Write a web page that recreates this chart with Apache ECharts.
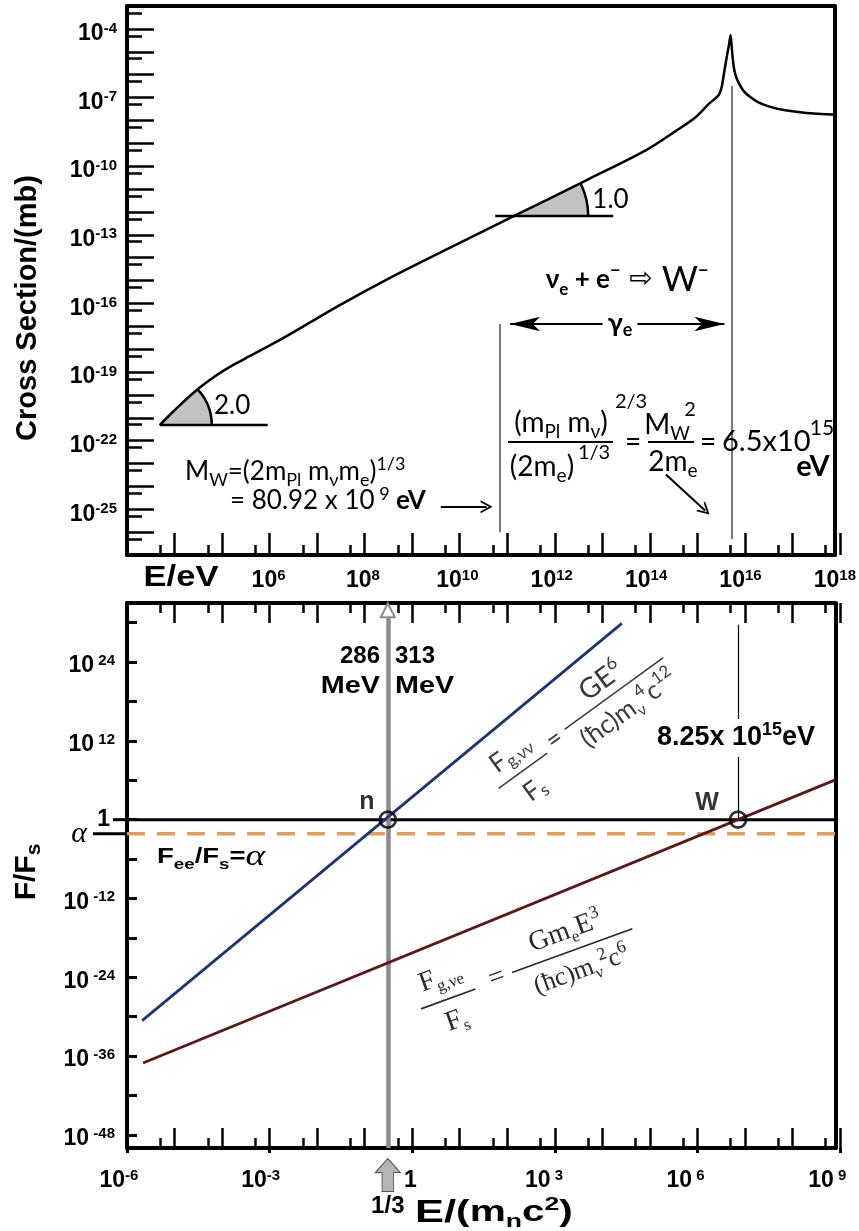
<!DOCTYPE html>
<html>
<head>
<meta charset="utf-8">
<script src="https://cdn.jsdelivr.net/npm/echarts@6.0.0/dist/echarts.min.js"></script>
<style>
html,body{margin:0;padding:0;background:#fff;}
#wrap{position:relative;width:859px;height:1231px;}
#chart,#ticks{position:absolute;left:0;top:0;width:859px;height:1231px;}
#ticks{pointer-events:none;}
</style>
</head>
<body>
<div id="wrap"><div id="chart"></div><div id="ticks"></div></div>
<script>
// ===================== DATA (log10 values) =====================
// Top panel: neutrino cross section vs E/eV
const sigmaLogE  = [3.694, 3.905, 4.115, 4.325, 4.536, 4.746, 4.957, 5.272, 5.588, 6.008, 6.429, 7.481, 8.533, 9.795, 11.205, 12.741, 14.003, 14.634, 15.055, 15.328, 15.539, 15.60, 15.65, 15.72, 15.76, 15.79, 15.82, 15.86, 15.90, 15.96, 16.06, 16.20, 16.38, 16.65, 16.95, 17.40, 17.94, 18.00];
const sigmaLogMb = [-21.32, -20.88, -20.46, -20.06, -19.69, -19.36, -19.06, -18.67, -18.32, -17.86, -17.38, -16.11, -14.93, -13.62, -12.18, -10.61, -9.30, -8.46, -7.85, -7.28, -6.89, -6.55, -5.95, -5.10, -4.65, -4.27, -4.95, -5.70, -6.05, -6.35, -6.70, -6.97, -7.21, -7.42, -7.56, -7.68, -7.74, -7.74];
// slope indicators on the curve
const slopeVertexLogE  = [3.694, 11.205];
const slopeVertexLogMb = [-21.32, -12.18];
const slopeValues      = [2.0, 1.0];
const slopeLabels      = ['2.0', '1.0'];
// marked energies (log10 eV)
const mwLogE        = 10.908;   // 80.92 x 10^9 eV
const resonanceLogE = 15.813;   // 6.5 x 10^15 eV

// Bottom panel: force ratios vs E/(m_n c^2)
const nuNuLogE = [-5.68, 4.48];
const nuNuLogF = [-30.6, 29.9];
const nuELogE  = [-5.66, 9.00];
const nuELogF  = [-37.06, 6.06];
const unityLogF = 0;
const alphaLogF = -2.137;      // alpha = 1/137
const crossingLogE  = [-0.477, 6.94];   // 1/3 and W point
const crossingLabels = ['n', 'W'];

// Tick label values (exponents)
const topXLabels = [6, 8, 10, 12, 14, 16, 18];
const topYLabels = [-4, -7, -10, -13, -16, -19, -22, -25];
const botXLabels = [-6, -3, 0, 3, 6, 9];
const botYLabels = [-48, -36, -24, -12, 12, 24];

// ===================== helpers =====================
const SANS = '"Liberation Sans", Arial, sans-serif';
const CAL  = 'Lato, "Open Sans", sans-serif';
const SERIF = '"Liberation Serif", "Times New Roman", serif';

const tickRich = {
  b: {fontSize: 23, fontWeight: 'bold', fontFamily: SANS, color: '#000', lineHeight: 26},
  s: {fontSize: 15, fontWeight: 'bold', fontFamily: SANS, color: '#000', lineHeight: 13, verticalAlign: 'top'},
  g: {width: 16}
};

function ax(o) {
  return {
    type: 'value', gridIndex: o.grid, position: o.pos, min: o.min, max: o.max,
    splitLine: {show: false},
    axisLine: {show: !!o.line, onZero: false, lineStyle: {color: '#000', width: 4}},
    axisTick: {show: false},
    axisLabel: o.labels ? Object.assign({show: true, customValues: o.labels, rich: tickRich}, o.label) : {show: false}
  };
}
function tax(o) {
  return {
    type: 'value', gridIndex: o.grid, position: o.pos, min: o.min, max: o.max, interval: o.interval,
    splitLine: {show: false},
    axisLine: {show: true, onZero: false, lineStyle: {color: o.frame ? '#000' : 'rgba(0,0,0,0)', width: o.frame ? 4 : 1}},
    axisTick: {show: true, inside: o.inside !== false, length: o.len, lineStyle: {color: '#000', width: o.tw || 2.5}},
    axisLabel: {show: true, formatter: () => ''}
  };
}
function dummy(grid) { return {type: 'value', gridIndex: grid, min: 0, max: 1, show: false}; }

function st(size, o) { return Object.assign({fontSize: size, fontFamily: CAL, fill: '#000', lineHeight: Math.round(size * 1.2)}, o || {}); }
function sup(size, o) { return st(size, Object.assign({verticalAlign: 'top', lineHeight: size}, o || {})); }
function sub(size, o) { return st(size, Object.assign({verticalAlign: 'bottom', lineHeight: size}, o || {})); }
function txt(x, y, text, rich, o) {
  o = o || {};
  const style = {text: text, rich: rich, align: o.align || 'center', verticalAlign: 'middle'};
  if (o.bg) { style.backgroundColor = o.bg; style.padding = o.pad || [0, 3]; }
  return {type: 'text', x: x, y: y, rotation: o.rot || 0, scaleX: o.sx || 1, scaleY: o.sy || 1, z: 100, silent: true, style: style};
}
function seg(x1, y1, x2, y2, w, c) {
  return {type: 'line', z: 100, silent: true, shape: {x1: x1, y1: y1, x2: x2, y2: y2}, style: {stroke: c || '#000', lineWidth: w || 2}};
}
const chevron = 'path://M0,12 L6,0 L12,12 L10.2,12 L6,3.6 L1.8,12 Z';
const blockArrow = 'path://M13,0 L26,14 L19,14 L19,33 L7,33 L7,14 L0,14 Z';
const WEDGE = [{r: 52, back: 0, len: 108}, {r: 74, back: 19, len: 99}];

// ===================== grids =====================
const TOP = {left: 127, top: 6, width: 713, height: 549, x: [3, 18], y: [-27, -3]};
const BOT = {left: 127, top: 603, width: 713, height: 545, x: [-6, 9], y: [-50, 33]};
const pxX = (g, v) => g.left + (v - g.x[0]) / (g.x[1] - g.x[0]) * g.width;
const pxY = (g, v) => g.top + (g.y[1] - v) / (g.y[1] - g.y[0]) * g.height;
const LOG5 = 0.699, LOG2 = 0.301;
function box(g, x0, x1, y0, y1) {
  return {left: pxX(g, x0), width: pxX(g, x1) - pxX(g, x0), top: pxY(g, y1), height: pxY(g, y0) - pxY(g, y1)};
}
const MAIN_GRIDS = [
  {left: TOP.left, top: TOP.top, width: TOP.width, height: TOP.height},
  {left: BOT.left, top: BOT.top, width: BOT.width, height: BOT.height}
];
const TICK_GRIDS = MAIN_GRIDS.concat([
  box(TOP, 3 + LOG5, 17 + LOG5, -27, -3),        // 2: top panel, 5x10^n ticks on x
  box(TOP, 3, 18, -26 - LOG2, -3 - LOG2),        // 3: top panel, 5x10^n ticks on y
  box(BOT, -6 + LOG5, 8 + LOG5, -50, 33),        // 4: bottom panel, 5x10^n ticks on x
  box(BOT, -6, 9, -48, 30)                       // 5: bottom panel, y ticks every 6 decades
]);

// ===================== graphic annotations =====================
const G1 = '#3a3a3a', G2 = '#2a2a2a';
const graphics = [
  // ---- top panel ----
  txt(28, 308, '{b|Cross Section/(mb)}', {b: st(29, {fontFamily: SANS, fontWeight: 'bold'})}, {rot: Math.PI / 2}),
  txt(181, 578, '{b|E/eV}', {b: st(30, {fontFamily: SANS, fontWeight: 'bold'})}, {sx: 1.15}),
  txt(627, 280, '{m|ν}{s|e}{m| + e}{p|−}{a| ⇨ }{w|W}{p|−}',
      {m: st(26, {fontWeight: 'bold', lineHeight: 36}), s: sub(17, {fontWeight: 'bold', lineHeight: 26}), p: sup(18, {fontWeight: 'bold'}),
       a: st(28, {fontFamily: '"DejaVu Sans"', lineHeight: 36}), w: st(35, {lineHeight: 36})}),
  txt(620, 323, '{m|γ}{s|e}', {m: st(27, {fontWeight: 'bold', lineHeight: 32}), s: sub(18, {fontWeight: 'bold', lineHeight: 26})}, {bg: '#fff', pad: [0, 5]}),
  txt(185, 472, '{m|M}{s|W}{m|=(2m}{s|Pl}{m| m}{s|ν}{m|m}{s|e}{m|)}{p|1/3}',
      {m: st(26, {lineHeight: 34}), s: sub(18, {lineHeight: 28}), p: sup(18)}, {align: 'left'}),
  txt(230, 501, '{m|= 80.92 x 10}{p| 9}{b| eV}',
      {m: st(26, {lineHeight: 32}), p: sup(18), b: st(26, {fontWeight: 'bold', lineHeight: 32})}, {align: 'left'}),
  txt(561, 423, '{m|(m}{s|Pl}{m| m}{s|ν}{m|)}', {m: st(28, {lineHeight: 36}), s: sub(19, {lineHeight: 30})}),
  txt(631, 402, '{p|2/3}', {p: st(20)}),
  seg(508, 442, 613, 442, 2.2),
  txt(542, 467, '{m|(2m}{s|e}{m|)}', {m: st(28, {lineHeight: 36}), s: sub(19, {lineHeight: 30})}),
  txt(594, 453, '{p|1/3}', {p: st(20)}),
  txt(633, 442, '{m|=}', {m: st(28)}),
  txt(667, 425, '{m|M}{s|W}', {m: st(28, {lineHeight: 36}), s: sub(19, {lineHeight: 30})}),
  txt(690, 410, '{p|2}', {p: st(20)}),
  seg(648, 442, 694, 442, 2.2),
  txt(673, 462, '{m|2m}{s|e}', {m: st(28, {lineHeight: 36}), s: sub(19, {lineHeight: 30})}),
  txt(708, 442, '{m|=}', {m: st(28)}),
  txt(722, 442, '{m|6.5x10}', {m: st(29)}, {align: 'left'}),
  txt(822, 428, '{p|15}', {p: st(21)}),
  txt(813, 467, '{b|eV}', {b: st(29, {fontWeight: 'bold'})}),
  // ---- bottom panel ----
  txt(27, 872, '{b|F/F}{s|s}', {b: st(30, {fontFamily: SANS, fontWeight: 'bold', lineHeight: 36}), s: sub(21, {fontFamily: SANS, fontWeight: 'bold', lineHeight: 26})}, {rot: Math.PI / 2}),
  txt(380, 656, '{b|286}', {b: st(24, {fontFamily: SANS, fontWeight: 'bold'})}, {align: 'right'}),
  txt(380, 686, '{b|MeV}', {b: st(24, {fontFamily: SANS, fontWeight: 'bold'})}, {align: 'right', sx: 1.2}),
  txt(395, 656, '{b|313}', {b: st(24, {fontFamily: SANS, fontWeight: 'bold'})}, {align: 'left'}),
  txt(395, 686, '{b|MeV}', {b: st(24, {fontFamily: SANS, fontWeight: 'bold'})}, {align: 'left', sx: 1.2}),
  txt(157, 857, '{b|F}{s|ee}{b|/F}{s|s}{b|=}{a|α}',
      {b: st(22, {fontFamily: SANS, fontWeight: 'bold', lineHeight: 30}), s: sub(15, {fontFamily: SANS, fontWeight: 'bold', lineHeight: 22}),
       a: st(30, {fontFamily: SERIF, fontStyle: 'italic', lineHeight: 30})}, {align: 'left', sx: 1.25}),
  txt(736, 738, '{b|8.25x 10}{p|15}{b|eV}',
      {b: st(27, {fontFamily: SANS, fontWeight: 'bold', lineHeight: 34}), p: sup(18, {fontFamily: SANS, fontWeight: 'bold'})}, {bg: '#fff', pad: [2, 2]}),
  txt(494, 1213, '{b|E/}{p|(m}{s|n}{p|c}{u|2}{p|)}',
      {b: st(31, {fontFamily: SANS, fontWeight: 'bold', lineHeight: 36}), p: st(29, {fontFamily: SANS, fontWeight: 'bold', lineHeight: 36}),
       s: sub(19, {fontFamily: SANS, fontWeight: 'bold', lineHeight: 24}), u: sup(19, {fontFamily: SANS, fontWeight: 'bold'})}, {sx: 1.4}),
  // formula F_g,vv / F_s
  {type: 'group', x: 555, y: 740, rotation: 36 * Math.PI / 180, z: 100, silent: true, children: [
    txt(-44, -15, '{F|F}{s|g,νν}', {F: st(26, {fill: G1, lineHeight: 30}), s: sub(17, {fill: G1, lineHeight: 22})}),
    seg(-74, 6, -14, 6, 1.5, G1),
    txt(-45, 28, '{F|F}{s|s}', {F: st(26, {fill: G1, lineHeight: 30}), s: sub(17, {fill: G1, lineHeight: 22})}),
    txt(0, -1, '{m|=}', {m: st(26, {fill: G1})}),
    txt(72, -21, '{m|GE}{p|6}', {m: st(28, {fill: G1, lineHeight: 34}), p: sup(18, {fill: G1})}),
    seg(14, -3, 136, -3, 1.5, G1),
    txt(78, 18, '{m|(ħc)m}{s|ν}{p|4}{m|c}{p|12}', {m: st(26, {fill: G1, lineHeight: 34}), s: sub(16, {fill: G1, lineHeight: 24}), p: sup(17, {fill: G1})})
  ]},
  // formula F_g,ve / F_s
  {type: 'group', x: 497, y: 978, rotation: 20 * Math.PI / 180, z: 100, silent: true, children: [
    txt(-53, -20, '{F|F}{s|g,νe}', {F: st(28, {fontFamily: SERIF, fill: G2, lineHeight: 34}), s: sub(17, {fontFamily: SERIF, fill: G2, lineHeight: 24})}),
    seg(-82, 3, -24, 3, 1.8, G2),
    txt(-52, 26, '{F|F}{s|s}', {F: st(28, {fontFamily: SERIF, fill: G2, lineHeight: 34}), s: sub(17, {fontFamily: SERIF, fill: G2, lineHeight: 24})}),
    txt(0, 0, '{m|=}', {m: st(28, {fontFamily: SERIF, fill: G2})}),
    txt(80, -20, '{m|Gm}{s|e}{m|E}{p|3}', {m: st(28, {fontFamily: SERIF, fill: G2, lineHeight: 34}), s: sub(17, {fontFamily: SERIF, fill: G2, lineHeight: 24}), p: sup(18, {fontFamily: SERIF, fill: G2})}),
    seg(16, 0, 144, 0, 1.8, G2),
    txt(82, 22, '{m|(ħc)m}{s|ν}{p|2}{m|c}{p|6}', {m: st(26, {fontFamily: SERIF, fill: G2, lineHeight: 34}), s: sub(17, {fontFamily: SERIF, fill: G2, lineHeight: 24}), p: sup(18, {fontFamily: SERIF, fill: G2})})
  ]}
];

// ===================== main chart =====================
const option = {
  backgroundColor: '#fff',
  animation: false,
  grid: MAIN_GRIDS,
  xAxis: [
    ax({grid: 0, pos: 'bottom', min: 3, max: 18, line: true, labels: topXLabels,
        label: {margin: 13, formatter: v => `{b|10}{s|${v}}`}}),
    ax({grid: 0, pos: 'top', min: 3, max: 18, line: true}),
    ax({grid: 1, pos: 'bottom', min: -6, max: 9, line: true, labels: botXLabels,
        label: {margin: 20, formatter: v => v === 0 ? '{b|1}' : (v > 0 ? `{b|10}{s| ${v}}{g| }` : `{b|10}{s|${v}}{g| }`)}}),
    ax({grid: 1, pos: 'top', min: -6, max: 9, line: true})
  ],
  yAxis: [
    ax({grid: 0, pos: 'left', min: -27, max: -3, line: true, labels: topYLabels,
        label: {margin: 10, padding: [10, 0, 0, 0], formatter: v => `{b|10}{s|${v}}`}}),
    ax({grid: 0, pos: 'right', min: -27, max: -3, line: true}),
    ax({grid: 1, pos: 'left', min: -50, max: 33, line: true, labels: botYLabels,
        label: {margin: 12, padding: [8, 0, 0, 0], formatter: v => `{b|10}{s| ${v}}`}}),
    ax({grid: 1, pos: 'left', min: -50, max: 33, labels: [unityLogF],
        label: {margin: 17, formatter: () => '{b|1}'}}),
    ax({grid: 1, pos: 'left', min: -50, max: 33, labels: [alphaLogF],
        label: {margin: 40, formatter: () => '{a|α}', rich: {a: {fontSize: 30, fontFamily: SERIF, fontStyle: 'italic', color: '#000'}}}}),
    ax({grid: 1, pos: 'right', min: -50, max: 33, line: true})
  ],
  series: [
    {
      name: 'Cross section', type: 'line', xAxisIndex: 0, yAxisIndex: 0, z: 5,
      data: sigmaLogE.map((x, i) => [x, sigmaLogMb[i]]),
      symbol: 'none', smooth: 0.3,
      lineStyle: {color: '#000', width: 2.5, join: 'round'},
      markLine: {
        silent: true, animation: false, symbol: ['none', 'none'], label: {show: false}, emphasis: {disabled: true},
        lineStyle: {color: '#7a7a7a', width: 2, type: 'solid'},
        data: [
          [{coord: [mwLogE, -16.9]}, {coord: [mwLogE, -26.0]}],
          [{coord: [resonanceLogE, -6.5]}, {coord: [resonanceLogE, -26.3]}],
          [{coord: [11.12, -16.9], symbol: 'arrow', symbolSize: [11, 30], lineStyle: {color: '#000', width: 2, type: 'solid'}},
           {coord: [15.66, -16.9], symbol: 'arrow', symbolSize: [11, 30]}],
          [{coord: [9.65, -24.89], lineStyle: {color: '#000', width: 2, type: 'solid'}}, {coord: [10.62, -24.89], symbol: chevron, symbolSize: [13, 12]}],
          [{coord: [14.42, -23.48], lineStyle: {color: '#000', width: 2, type: 'solid'}}, {coord: [15.25, -25.05], symbol: chevron, symbolSize: [13, 12]}]
        ]
      }
    },
    {
      name: 'Slopes', type: 'custom', xAxisIndex: 0, yAxisIndex: 0, z: 2, silent: true,
      data: slopeVertexLogE.map((x, i) => [x, slopeVertexLogMb[i], slopeValues[i]]),
      renderItem: function (params, api) {
        const i = params.dataIndex;
        const p = api.coord([api.value(0), api.value(1)]);
        const q = api.coord([api.value(0) + 1, api.value(1) + api.value(2)]);
        const ang = Math.atan2(p[1] - q[1], q[0] - p[0]);
        const w = WEDGE[i];
        return {type: 'group', children: [
          {type: 'sector', shape: {cx: p[0], cy: p[1], r0: 0, r: w.r, startAngle: -ang, endAngle: 0, clockwise: true}, style: {fill: '#c2c2c2'}},
          {type: 'arc', shape: {cx: p[0], cy: p[1], r: w.r, startAngle: -ang, endAngle: 0, clockwise: true}, style: {stroke: '#000', lineWidth: 2.5, fill: 'none'}},
          {type: 'line', shape: {x1: p[0] - w.back, y1: p[1], x2: p[0] + w.len, y2: p[1]}, style: {stroke: '#000', lineWidth: 2.5}},
          {type: 'text', x: p[0] + w.r * Math.cos(ang / 2) + 6, y: p[1] - w.r * Math.sin(ang / 2),
           style: {text: slopeLabels[i], fontSize: 26, fontFamily: CAL, fill: '#000', align: 'left', verticalAlign: 'middle'}}
        ]};
      }
    },
    {
      name: 'F/Fs = alpha', type: 'line', xAxisIndex: 2, yAxisIndex: 2, z: 3,
      data: [[-6, alphaLogF], [9, alphaLogF]], symbol: 'none',
      lineStyle: {color: '#e39d55', width: 3.5, type: [18, 12]}
    },
    {
      name: 'F/Fs = 1', type: 'line', xAxisIndex: 2, yAxisIndex: 2, z: 4,
      data: [[-6, unityLogF], [9, unityLogF]], symbol: 'none',
      lineStyle: {color: '#000', width: 3}
    },
    {
      name: 'Fg,vv/Fs', type: 'line', xAxisIndex: 2, yAxisIndex: 2, z: 5,
      data: nuNuLogE.map((x, i) => [x, nuNuLogF[i]]), symbol: 'none',
      lineStyle: {color: '#1b3474', width: 2.8}
    },
    {
      name: 'Fg,ve/Fs', type: 'line', xAxisIndex: 2, yAxisIndex: 2, z: 5,
      data: nuELogE.map((x, i) => [x, nuELogF[i]]), symbol: 'none',
      lineStyle: {color: '#5a1818', width: 2.8}
    },
    {
      name: 'Crossings', type: 'scatter', xAxisIndex: 2, yAxisIndex: 2, z: 8,
      data: [
        {value: [crossingLogE[0], unityLogF], label: {offset: [-21, -18]}},
        {value: [crossingLogE[1], unityLogF], label: {offset: [-31, -17]}}
      ],
      symbol: 'circle', symbolSize: 16,
      itemStyle: {color: 'rgba(0,0,0,0)', borderColor: '#000', borderWidth: 2.8},
      label: {show: true, position: 'inside', formatter: p => crossingLabels[p.dataIndex],
              fontSize: 25, fontWeight: 'bold', fontFamily: SANS, color: '#000'},
      markLine: {
        silent: true, animation: false, symbol: ['none', 'none'], label: {show: false}, emphasis: {disabled: true},
        lineStyle: {type: 'solid'},
        data: [
          [{coord: [crossingLogE[0], -50], lineStyle: {color: '#8c8c8c', width: 4.5, type: 'solid'}},
           {coord: [crossingLogE[0], 31.9], symbol: 'emptyTriangle', symbolSize: [14, 14]}],
          [{coord: [crossingLogE[1], unityLogF], lineStyle: {color: '#000', width: 1.2, type: 'solid'}}, {coord: [crossingLogE[1], 29.7]}]
        ]
      },
      markPoint: {
        silent: true, animation: false,
        data: [{coord: [crossingLogE[0], -50], symbol: blockArrow, symbolSize: [25, 33], symbolOffset: [0, 27],
                itemStyle: {color: '#b5b5b5', borderColor: '#555', borderWidth: 1},
                label: {show: true, position: 'bottom', distance: 2, formatter: '1/3', fontSize: 24, fontWeight: 'bold', fontFamily: SANS, color: '#000'}}]
      }
    }
  ],
  graphic: {elements: graphics}
};

const chart = echarts.init(document.getElementById('chart'), null, {renderer: 'canvas'});
chart.setOption(option);

// ===================== tick layer (separate transparent chart on top) =====================
const tickOption = {
  animation: false,
  grid: TICK_GRIDS,
  xAxis: [
    tax({grid: 0, pos: 'bottom', min: 3, max: 18, interval: 1, len: 22}),                            // 0
    tax({grid: 1, pos: 'bottom', min: -6, max: 9, interval: 1, len: 20}),                            // 1
    tax({grid: 1, pos: 'top', min: -6, max: 9, interval: 1, len: 20}),                               // 2
    tax({grid: 1, pos: 'bottom', min: -6, max: 9, interval: 3, len: 5, inside: false, tw: 3}),       // 3
    tax({grid: 2, pos: 'bottom', min: 3, max: 17, interval: 1, len: 10}),                            // 4
    dummy(3),                                                                                        // 5
    tax({grid: 4, pos: 'bottom', min: -6, max: 8, interval: 1, len: 10}),                            // 6
    tax({grid: 4, pos: 'top', min: -6, max: 8, interval: 1, len: 10}),                               // 7
    dummy(5)                                                                                         // 8
  ],
  yAxis: [
    tax({grid: 0, pos: 'left', min: -27, max: -3, interval: 1, len: 27}),                            // 0
    dummy(1),                                                                                        // 1
    dummy(2),                                                                                        // 2
    tax({grid: 3, pos: 'left', min: -26, max: -3, interval: 1, len: 15}),                            // 3 (values shifted by log10 2)
    dummy(4),                                                                                        // 4
    tax({grid: 5, pos: 'left', min: -48, max: 30, interval: 6, len: 10, tw: 3})                      // 5
  ],
  series: [
    {type: 'line', xAxisIndex: 0, yAxisIndex: 0, data: [], silent: true}
  ],
  graphic: {elements: [
    seg(pxX(BOT, -6) - 14, pxY(BOT, unityLogF), pxX(BOT, -6), pxY(BOT, unityLogF), 3),
    seg(pxX(BOT, -6) - 34, pxY(BOT, alphaLogF), pxX(BOT, -6), pxY(BOT, alphaLogF), 3)
  ]}
};
const tickChart = echarts.init(document.getElementById('ticks'), null, {renderer: 'canvas'});
tickChart.setOption(tickOption);
</script>
</body>
</html>
